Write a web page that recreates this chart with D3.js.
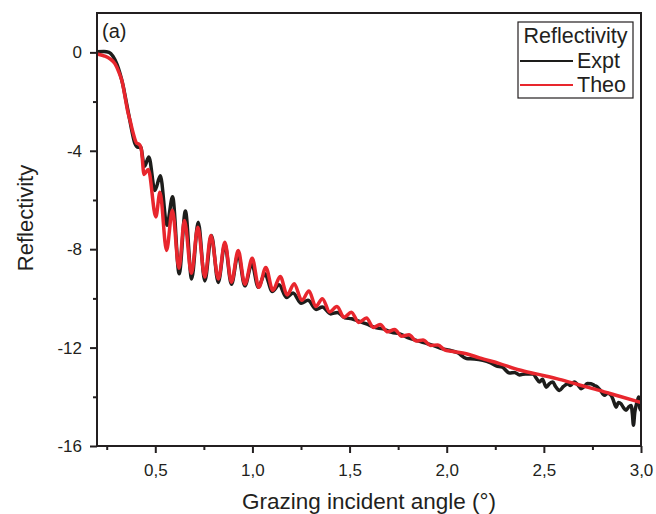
<!DOCTYPE html>
<html lang="en">
<head>
<meta charset="utf-8">
<title>Reflectivity</title>
<script src="https://d3js.org/d3.v7.min.js"></script>
<style>
  body { margin: 0; background: #fff; }
  text { font-family: "Liberation Sans", Arial, sans-serif; fill: #231f20; }
  .tick text { font-size: 17px; }
  .axis path, .axis line { stroke: #231f20; stroke-width: 2; }
</style>
</head>
<body>
<div id="vis"></div>
<script>
// measured curve (black)
const exptAngle = [0.200,0.236,0.262,0.282,0.303,0.318,0.334,0.349,0.365,0.380,0.395,0.411,0.424,0.444,0.467,0.498,0.526,0.560,0.589,0.623,0.655,0.687,0.721,0.755,0.789,0.824,0.858,0.892,0.926,0.961,0.997,1.030,1.064,1.102,1.137,1.175,1.209,1.251,1.286,1.328,1.360,1.403,1.437,1.475,1.511,1.552,1.587,1.629,1.672,1.717,1.758,1.799,1.844,1.886,1.929,1.969,2.015,2.056,2.101,2.143,2.186,2.220,2.255,2.287,2.323,2.349,2.375,2.405,2.443,2.462,2.477,2.493,2.512,2.529,2.546,2.560,2.580,2.601,2.623,2.637,2.657,2.673,2.692,2.709,2.724,2.743,2.760,2.777,2.791,2.812,2.827,2.846,2.858,2.872,2.884,2.897,2.909,2.923,2.935,2.949,2.956,2.961,2.968,2.975,2.981,2.988,2.994,3.000];
const exptRefl = [0.02,0.04,0.00,-0.16,-0.49,-0.85,-1.34,-1.95,-2.60,-3.21,-3.70,-3.86,-3.84,-4.63,-4.25,-5.61,-5.02,-7.03,-5.87,-9.00,-6.45,-9.21,-6.91,-9.29,-7.44,-9.35,-7.80,-9.43,-8.20,-9.49,-8.60,-9.55,-9.00,-9.72,-9.45,-9.96,-9.78,-10.20,-10.08,-10.45,-10.35,-10.63,-10.57,-10.79,-10.83,-10.94,-11.04,-11.18,-11.24,-11.38,-11.44,-11.59,-11.71,-11.81,-11.91,-12.03,-12.11,-12.21,-12.44,-12.46,-12.52,-12.60,-12.74,-12.80,-13.03,-13.01,-13.11,-13.07,-13.07,-13.25,-13.40,-13.29,-13.61,-13.46,-13.40,-13.58,-13.74,-13.58,-13.47,-13.54,-13.40,-13.50,-13.67,-13.58,-13.46,-13.47,-13.54,-13.61,-13.74,-13.94,-13.86,-13.94,-14.15,-14.42,-14.23,-14.28,-14.43,-14.55,-14.43,-14.35,-14.72,-15.16,-14.63,-14.35,-14.19,-14.01,-14.47,-14.55];

// fitted curve (red)
const theoAngle = [0.200,0.236,0.267,0.293,0.313,0.329,0.344,0.357,0.370,0.385,0.403,0.418,0.429,0.442,0.464,0.503,0.524,0.558,0.588,0.622,0.650,0.686,0.719,0.755,0.786,0.825,0.858,0.892,0.927,0.961,0.999,1.033,1.069,1.105,1.143,1.179,1.215,1.254,1.291,1.326,1.360,1.398,1.435,1.472,1.509,1.547,1.587,1.622,1.657,1.696,1.732,1.768,1.806,1.843,1.878,1.917,1.955,1.989,2.025,2.101,2.169,2.272,2.375,2.461,2.580,2.683,2.786,2.889,3.000];
const theoRefl = [-0.06,-0.14,-0.26,-0.47,-0.81,-1.18,-1.79,-2.36,-2.76,-3.25,-3.68,-3.74,-3.98,-4.96,-4.76,-6.69,-5.69,-8.05,-6.42,-8.78,-6.83,-8.98,-7.11,-9.13,-7.44,-9.21,-7.72,-9.34,-8.05,-9.43,-8.37,-9.55,-8.74,-9.67,-9.11,-9.86,-9.40,-10.08,-9.70,-10.33,-10.01,-10.55,-10.33,-10.77,-10.56,-10.98,-10.80,-11.18,-11.06,-11.36,-11.26,-11.54,-11.48,-11.73,-11.69,-11.91,-11.89,-12.09,-12.15,-12.25,-12.42,-12.65,-12.91,-13.07,-13.29,-13.52,-13.74,-13.98,-14.23];

const xMajor = [0.5, 1.0, 1.5, 2.0, 2.5, 3.0];
const xMinor = [0.25, 0.75, 1.25, 1.75, 2.25, 2.75];
const yMajor = [0, -4, -8, -12, -16];
const yMinor = [-2, -6, -10, -14];

const width = 656, height = 514;
const plotL = 97, plotR = 641, plotT = 13, plotB = 446;

const xScale = d3.scaleLinear().domain([0.2, 3.0]).range([plotL, plotR]);
const yScale = d3.scaleLinear().domain([-16, 1.6]).range([plotB, plotT]);

const svg = d3.select("#vis").append("svg")
  .attr("width", width).attr("height", height);

svg.append("defs").append("clipPath").attr("id", "clip")
  .append("rect").attr("x", plotL).attr("y", plotT)
  .attr("width", plotR - plotL).attr("height", plotB - plotT);

const line = d3.line()
  .x(d => xScale(d[0]))
  .y(d => yScale(d[1]))
  .curve(d3.curveMonotoneX);

const expt = exptAngle.map((a, i) => [a, exptRefl[i]]);
const theo = theoAngle.map((a, i) => [a, theoRefl[i]]);

const plot = svg.append("g").attr("clip-path", "url(#clip)");
plot.append("path").datum(expt)
  .attr("d", line).attr("fill", "none")
  .attr("stroke", "#1d1d1b").attr("stroke-width", 3.5).attr("stroke-linejoin", "round");
plot.append("path").datum(theo)
  .attr("d", line).attr("fill", "none")
  .attr("stroke", "#e8262d").attr("stroke-width", 3.5).attr("stroke-linejoin", "round");

// axes
svg.append("g").attr("class", "axis")
  .attr("transform", "translate(0," + plotB + ")")
  .call(d3.axisBottom(xScale).tickValues(xMinor).tickSize(4).tickSizeOuter(0).tickFormat(""));
svg.append("g").attr("class", "axis")
  .attr("transform", "translate(0," + plotB + ")")
  .call(d3.axisBottom(xScale).tickValues(xMajor).tickSize(7).tickSizeOuter(0).tickPadding(11)
    .tickFormat(d => d3.format(".1f")(d).replace(".", ",")));

svg.append("g").attr("class", "axis")
  .attr("transform", "translate(" + plotL + ",0)")
  .call(d3.axisLeft(yScale).tickValues(yMinor).tickSize(4).tickSizeOuter(0).tickFormat(""));
svg.append("g").attr("class", "axis")
  .attr("transform", "translate(" + plotL + ",0)")
  .call(d3.axisLeft(yScale).tickValues(yMajor).tickSize(7).tickSizeOuter(0).tickPadding(8)
    .tickFormat(d => String(d)));

svg.selectAll(".axis .domain").remove();

// frame
svg.append("rect")
  .attr("x", plotL).attr("y", plotT)
  .attr("width", plotR - plotL).attr("height", plotB - plotT)
  .attr("fill", "none").attr("stroke", "#231f20").attr("stroke-width", 2);

// labels
svg.append("text").attr("x", 102).attr("y", 38)
  .style("font-size", "20px").text("(a)");

svg.append("text").attr("x", (plotL + plotR) / 2).attr("y", 509)
  .attr("text-anchor", "middle").style("font-size", "22.5px")
  .text("Grazing incident angle (°)");

svg.append("text").attr("transform", "translate(33," + 218 + ") rotate(-90)")
  .attr("text-anchor", "middle").style("font-size", "22px")
  .text("Reflectivity");

// legend
const lg = svg.append("g");
lg.append("rect").attr("x", 518).attr("y", 22).attr("width", 115).attr("height", 76)
  .attr("fill", "#fff").attr("stroke", "#231f20").attr("stroke-width", 1.2);
lg.append("text").attr("x", 575.5).attr("y", 43).attr("text-anchor", "middle")
  .style("font-size", "21.5px").text("Reflectivity");
const series = [["Expt", "#1d1d1b", 61, 67.5], ["Theo", "#e8262d", 85, 91.5]];
series.forEach(s => {
  lg.append("line").attr("x1", 520).attr("x2", 573).attr("y1", s[2]).attr("y2", s[2])
    .attr("stroke", s[1]).attr("stroke-width", 2);
  lg.append("text").attr("x", 577).attr("y", s[3]).style("font-size", "21.5px").text(s[0]);
});
</script>
</body>
</html>
